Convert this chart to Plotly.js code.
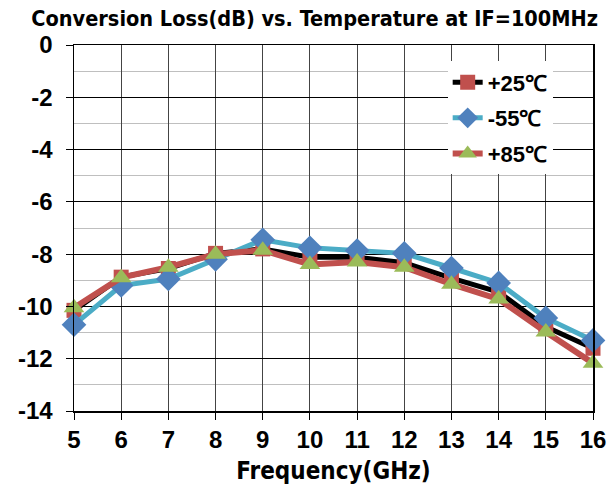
<!DOCTYPE html>
<html>
<head>
<meta charset="utf-8">
<script src="https://cdn.plot.ly/plotly-3.0.1.min.js"></script>
<style>html,body{margin:0;padding:0;background:#fff;}#chart{width:611px;height:493px;}</style>
</head>
<body>
<div id="chart"></div>
<script>
const freq = [5, 6, 7, 8, 9, 10, 11, 12, 13, 14, 15, 16];
const loss25 = [-10.15, -8.88, -8.55, -7.97, -7.8, -8.12, -8.12, -8.33, -8.92, -9.45, -10.78, -11.6];
const lossM55 = [-10.7, -9.2, -8.95, -8.2, -7.45, -7.76, -7.86, -7.97, -8.53, -9.1, -10.44, -11.3];
const loss85 = [-10.05, -8.9, -8.5, -8.0, -7.85, -8.4, -8.3, -8.5, -9.15, -9.72, -10.98, -12.17];
const names = ['+25℃', '-55℃', '+85℃'];
const yTicks = [0, -2, -4, -6, -8, -10, -12, -14];

const traces = [
  {x: freq, y: loss25, name: names[0], mode: 'lines+markers', legendgroup: 'a', cliponaxis: false,
   line: {color: '#000000', width: 5},
   marker: {symbol: 'square', size: 15, color: '#C0504D'}},
  {x: freq, y: lossM55, name: names[1], mode: 'lines+markers', legendgroup: 'b', cliponaxis: false,
   line: {color: '#4BACC6', width: 5},
   marker: {symbol: 'diamond', size: 19, color: '#4F81BD'}},
  {x: freq, y: loss85, name: names[2], mode: 'lines+markers', legendgroup: 'c', cliponaxis: false,
   line: {color: '#C0504D', width: 6},
   marker: {symbol: 'triangle-up', size: 18, color: '#9BBB59'}}
];

const layout = {
  width: 611, height: 493,
  margin: {l: 74, r: 18, t: 45, b: 82},
  paper_bgcolor: '#fff', plot_bgcolor: '#fff',
  title: {text: '<b>Conversion Loss(dB) vs. Temperature at IF=100MHz</b>',
          font: {family: 'DejaVu Sans Condensed, DejaVu Sans', size: 21.5, color: '#000'},
          x: 0.515, xanchor: 'center', y: 0.963, yanchor: 'middle'},
  xaxis: {
    range: [5, 16], tickvals: freq, ticktext: freq.map(String),
    showgrid: true, gridcolor: '#444', gridwidth: 1,
    showline: true, linecolor: '#000', linewidth: 1.5, mirror: true,
    ticks: 'outside', ticklen: 7, tickcolor: '#000', zeroline: false,
    tickfont: {family: 'Liberation Sans, Arial', size: 24, color: '#000', weight: 'bold'},
    title: {text: '<b>Frequency(GHz)</b>', standoff: 10,
            font: {family: 'DejaVu Sans Condensed, DejaVu Sans', size: 24, color: '#000'}}
  },
  yaxis: {
    range: [-14, 0], tickvals: yTicks, ticktext: yTicks.map(String),
    showgrid: true, gridcolor: '#000', gridwidth: 1,
    minor: {dtick: 1, showgrid: true, gridcolor: '#bfbfbf', gridwidth: 1},
    showline: true, linecolor: '#000', linewidth: 1.5, mirror: true,
    ticks: 'outside', ticklen: 7, tickcolor: '#000', zeroline: false,
    tickfont: {family: 'Liberation Sans, Arial', size: 24, color: '#000', weight: 'bold'},
    ticklabelstandoff: 8
  },
  showlegend: true,
  legend: {
    x: 0.72, y: 0.955, xanchor: 'left', yanchor: 'top',
    bgcolor: '#fff', borderwidth: 0,
    traceorder: 'grouped', tracegroupgap: 4,
    font: {family: 'Liberation Sans, Arial', size: 22, color: '#000', weight: 'bold'}
  }
};

Plotly.newPlot('chart', traces, layout, {displayModeBar: false, staticPlot: true});
</script>
</body>
</html>
